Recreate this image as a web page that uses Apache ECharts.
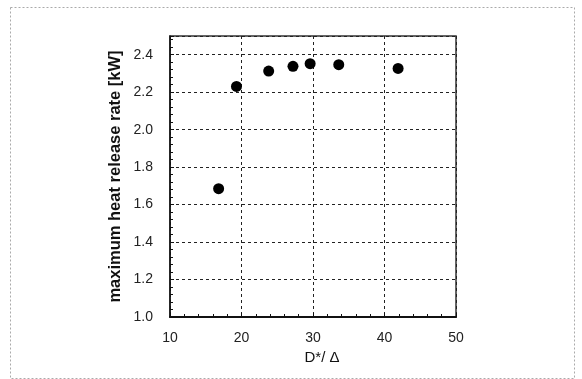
<!DOCTYPE html>
<html>
<head>
<meta charset="utf-8">
<script src="https://cdn.jsdelivr.net/npm/echarts@6/dist/echarts.min.js"></script>
<style>html,body{margin:0;padding:0;background:#fff;}#c{width:582px;height:379px;}</style>
</head>
<body>
<div id="c"></div>
<script>
const xValues = [16.8, 19.3, 23.8, 27.2, 29.6, 33.6, 41.9];
const yValues = [1.685, 2.231, 2.313, 2.338, 2.352, 2.347, 2.327];
const xTitle = 'D*/ \u0394';
const yTitle = 'maximum heat release rate [kW]';

const points = xValues.map((x, i) => [x, yValues[i]]);
const chart = echarts.init(document.getElementById('c'), null, {renderer: 'canvas'});
const font = 'Liberation Sans, Arial, sans-serif';
chart.setOption({
  animation: false,
  backgroundColor: '#fff',
  graphic: [{
    type: 'rect', left: 8, top: 5, shape: {width: 564, height: 371},
    style: {fill: 'none', stroke: '#aaa', lineWidth: 1, lineDash: [2, 2]}, z: -1
  }],
  grid: {left: 170, right: 126, top: 36, bottom: 62, show: true, borderColor: '#333', borderWidth: 1.5, backgroundColor: 'transparent'},
  xAxis: {
    type: 'value', min: 10, max: 50, interval: 10,
    name: xTitle, nameLocation: 'middle', nameGap: 26,
    nameTextStyle: {fontFamily: font, fontSize: 15, color: '#111', padding: [0, 0, 0, 18]},
    axisLine: {show: true, lineStyle: {color: '#111', width: 2}},
    axisTick: {show: true, inside: true, length: 4, lineStyle: {color: '#111'}},
    minorTick: {show: true, splitNumber: 5, length: 3, lineStyle: {color: '#111'}},
    axisLabel: {fontFamily: font, fontSize: 14, color: '#222', margin: 14},
    splitLine: {show: true, lineStyle: {color: '#222', type: [3, 3], width: 1}}
  },
  yAxis: {
    type: 'value', min: 1.0, max: 2.5, interval: 0.2,
    name: yTitle, nameLocation: 'middle', nameGap: 46,
    nameTextStyle: {fontFamily: font, fontSize: 16.5, fontWeight: 'bold', color: '#111'},
    axisLine: {show: true, lineStyle: {color: '#111', width: 1.5}},
    axisTick: {show: true, inside: true, length: 4, lineStyle: {color: '#111'}},
    minorTick: {show: true, splitNumber: 5, length: 3, lineStyle: {color: '#111'}},
    axisLabel: {fontFamily: font, fontSize: 14, color: '#222', margin: 17, showMaxLabel: false,
      formatter: v => v.toFixed(1)},
    splitLine: {show: true, lineStyle: {color: '#222', type: [3, 3], width: 1}}
  },
  series: [{
    type: 'scatter', data: points, symbol: 'circle', symbolSize: 11,
    itemStyle: {color: '#000', opacity: 1}
  }]
});
</script>
</body>
</html>
